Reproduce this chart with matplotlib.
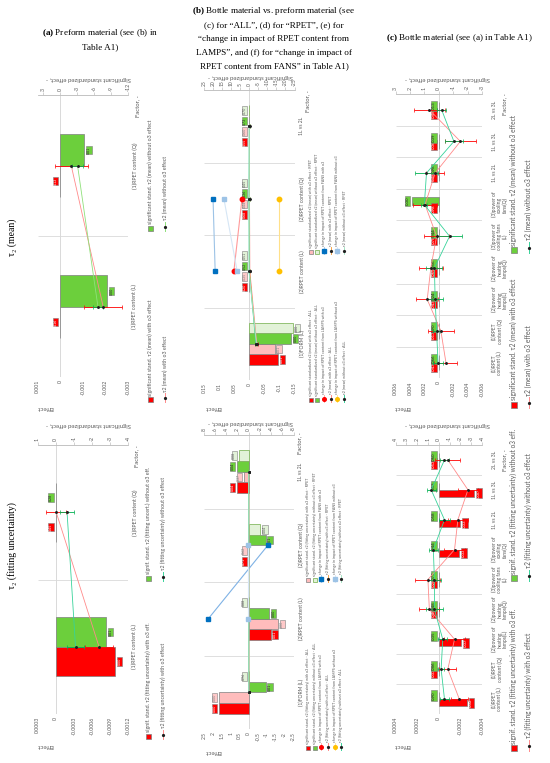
import numpy as np
import matplotlib
matplotlib.use("Agg")
import matplotlib.pyplot as plt
from matplotlib.patches import Rectangle

W, H = 550, 763
plt.rcParams["font.family"] = ["Lato", "DejaVu Sans"]
plt.rcParams["mathtext.fontset"] = "custom"
plt.rcParams["mathtext.rm"] = "Liberation Serif"
plt.rcParams["mathtext.bf"] = "Liberation Serif:bold"
nan = np.nan

# ======================= DATA =======================
# ---- (a) preform material ----
cats_a = ["(1)RPET content (L)", "(1)RPET content (Q)"]
# tau2 (mean)
a_mean_std_with = [0.0, 0.0]
a_mean_std_without = [-8.3, -4.3]
a_mean_p_with = ["0.16", "0.13"]
a_mean_p_without = ["0.00", "0.01"]
a_mean_eff_with = [-0.0019, -0.00049]
a_mean_err_with = [0.00084, 0.00072]
a_mean_eff_without = [-0.00167, -0.00077]
a_mean_err_without = [0.00022, 0.00024]
# tau2 (fitting uncertainty)
a_unc_std_with = [-3.3, 0.0]
a_unc_std_without = [-2.8, 0.0]
a_unc_p_with = ["0.00", "0.45"]
a_unc_p_without = ["0.01", "0.28"]
a_unc_eff_with = [-0.00072, -0.00001]
a_unc_err_with = [0.00023, 0.00017]
a_unc_eff_without = [-0.00033, -0.00019]
a_unc_err_without = [0.00014, 0.00011]

a_mean_eff_ticks = [0.001, 0, -0.001, -0.002, -0.003]
a_mean_eff_labels = ["0.001", "0", "-0.001", "-0.002", "-0.003"]
a_mean_std_ticks = [3, 0, -3, -6, -9, -12]
a_mean_std_labels = ["3", "0", "-3", "-6", "-9", "-12"]
a_unc_eff_ticks = [0.0003, 0, -0.0003, -0.0006, -0.0009, -0.0012]
a_unc_eff_labels = ["0.0003", "0", "-0.0003", "-0.0006", "-0.0009", "-0.0012"]
a_unc_std_ticks = [1, 0, -1, -2, -3, -4]
a_unc_std_labels = ["1", "0", "-1", "-2", "-3", "-4"]

# ---- (b) bottle vs preform ----
cats_b = ["(1)FORM (L)", "(2)RPET content (L)", "(2)RPET content (Q)", "1L vs 2L"]
# tau2 (mean)
b_mean_std_all_with = [-15.8, 0.0, 0.0, 0.0]
b_mean_std_rpet_with = [-14.0, 0.0, 0.0, 0.0]
b_mean_std_all_without = [-23.0, 0.0, 0.0, 0.0]
b_mean_std_rpet_without = [-24.0, 0.0, 0.0, 0.0]
b_mean_p_all_with = ["0.01", "0.20", "0.68", "0.55"]
b_mean_p_rpet_with = ["0.01", "0.35", "0.44", "0.60"]
b_mean_p_all_without = ["0.00", "0.52", "0.36", "0.73"]
b_mean_p_rpet_without = ["0.00", "0.51", "0.45", "0.70"]
b_mean_eff_all_with = [-0.025, -0.002, -0.001, 0.000]
b_mean_err_all_with = [0.004, 0.002, 0.002, 0.002]
b_mean_eff_all_without = [-0.022, 0.000, 0.001, 0.000]
b_mean_err_all_without = [0.003, 0.002, 0.002, 0.002]
b_mean_eff_rpet_with = [-0.023, -0.001, 0.000, -0.001]
b_mean_err_rpet_with = [0.004, 0.002, 0.002, 0.002]
b_mean_eff_rpet_without = [-0.024, 0.001, 0.000, 0.000]
b_mean_err_rpet_without = [0.003, 0.002, 0.002, 0.002]
b_mean_lamps_with = [nan, 0.051, 0.024, nan]
b_mean_lamps_without = [nan, -0.100, -0.100, nan]
b_mean_fans_with = [nan, 0.113, 0.120, nan]
b_mean_fans_without = [nan, 0.040, 0.084, nan]
# tau2 (fitting uncertainty)
b_unc_std_all_with = [5.3, -3.9, 0.0, 2.1]
b_unc_std_rpet_with = [5.3, -5.2, 0.0, 0.9]
b_unc_std_all_without = [-3.0, -3.6, -3.0, 2.1]
b_unc_std_rpet_without = [0.0, 0.0, -2.1, 1.8]
b_unc_p_all_with = ["0.00", "0.01", "0.71", "0.04"]
b_unc_p_rpet_with = ["0.00", "0.00", "0.62", "0.37"]
b_unc_p_all_without = ["0.01", "0.00", "0.01", "0.04"]
b_unc_p_rpet_without = ["0.96", "0.88", "0.04", "0.08"]
b_unc_eff_all_with = [0.0004, -0.0003, 0.0002, 0.0001]
b_unc_eff_all_without = [0.0002, -0.0001, 0.0001, 0.0000]
b_unc_eff_rpet_with = [0.0003, -0.0004, 0.0001, 0.0002]
b_unc_eff_rpet_without = [0.0001, 0.0000, -0.0001, 0.0001]
b_unc_err = [0.0002, 0.0002, 0.0002, 0.0002]
b_unc_lamps_with = [nan, nan, nan, nan]      # not visible in the reference
b_unc_lamps_without = [nan, nan, nan, nan]   # not visible in the reference
b_unc_fans_with = [nan, 2.26, -1.07, nan]
b_unc_fans_without = [nan, 0.02, 0.02, nan]

b_mean_eff_ticks = [0.15, 0.1, 0.05, 0, -0.05, -0.1, -0.15]
b_mean_eff_labels = ["0.15", "0.1", "0.05", "0", "-0.05", "-0.1", "-0.15"]
b_mean_std_ticks = [25, 20, 15, 10, 5, 0, -5, -10, -15, -20, -25]
b_mean_std_labels = ["25", "20", "15", "10", "5", "0", "-5", "-10", "-15", "-20", "-25"]
b_unc_eff_ticks = [2.5, 2, 1.5, 1, 0.5, 0, -0.5, -1, -1.5, -2, -2.5]
b_unc_eff_labels = ["2.5", "2", "1.5", "1", "0.5", "0", "-0.5", "-1", "-1.5", "-2", "-2.5"]
b_unc_std_ticks = [8, 6, 4, 2, 0, -2, -4, -6, -8]
b_unc_std_labels = ["8", "6", "4", "2", "0", "-2", "-4", "-6", "-8"]

# ---- (c) bottle material ----
cats_c = ["(1)RPET\ncontent (L)", "(1)RPET\ncontent (Q)", "(2)power of\nheating\nlamps(L)",
          "(2)power of\nheating\nlamps(Q)", "(3)power of\ncooling fans\n(L)",
          "(3)power of\ncooling\nfans(Q)", "1L vs 2L", "1L vs 3L", "2L vs 3L"]
# tau2 (mean)
c_mean_std_with = [0, 0, 0, 0, 0, 0, 0, 0, 0]
c_mean_std_without = [0, 0, 0, 0, 0, 1.86, 0, 0, 0]
c_mean_p_with = ["0.43", "0.13", "0.43", "0.65", "0.70", "0.98", "0.48", "0.06", "0.45"]
c_mean_p_without = ["0.66", "0.90", "0.24", "0.56", "0.44", "0.00", "0.98", "0.09", "0.13"]
c_mean_eff_with = [-0.0010, -0.0003, 0.0016, 0.0011, 0.0003, 0.0019, 0.0005, -0.0030, 0.0013]
c_mean_err_with = [0.0016, 0.0018, 0.0015, 0.0017, 0.0017, 0.0017, 0.0012, 0.0022, 0.0021]
c_mean_eff_without = [0.0001, 0.0003, 0.0005, 0.0006, -0.0015, 0.0020, 0.0017, -0.0021, -0.0004]
c_mean_err_without = [0.0007, 0.0005, 0.0011, 0.0011, 0.0017, 0.0004, 0.0016, 0.0013, 0.0006]
# tau2 (fitting uncertainty)
c_unc_std_with = [-2.6, 0, -2.1, 0, 0, -1.9, -2.0, -3.3, 0]
c_unc_std_without = [0, 0, 0, 0, 0, 0, 0, 0, 0]
c_unc_p_with = ["0.02", "0.33", "0.03", "0.46", "0.20", "0.03", "0.03", "0.00", "0.53"]
c_unc_p_without = ["0.90", "0.86", "0.35", "0.48", "0.77", "0.44", "0.58", "0.53", "0.60"]
c_unc_eff_with = [-0.00019, -0.000084, -0.000146, 0.000087, 0.0001, -0.000146, -0.000177, -0.00027, -0.000084]
c_unc_err_with = [0.000078, 0.000078, 0.000093, 0.000093, 0.000116, 0.000093, 0.000093, 0.000093, 0.000116]
c_unc_eff_without = [-0.000053, -0.000022, -0.000037, 0.00004, 0.00004, 0.00005, -0.000053, 0.00007, -0.000053]
c_unc_err_without = [0.00004, 0.00003, 0.00004, 0.00008, 0.00006, 0.00004, 0.00005, 0.00004, 0.00004]

c_mean_eff_ticks = [0.006, 0.004, 0.002, 0, -0.002, -0.004, -0.006]
c_mean_eff_labels = ["0.006", "0.004", "0.002", "0", "-0.002", "-0.004", "-0.006"]
c_mean_std_ticks = [3, 2, 1, 0, -1, -2, -3]
c_mean_std_labels = ["3", "2", "1", "0", "-1", "-2", "-3"]
c_unc_eff_ticks = [0.0004, 0.0002, 0, -0.0002, -0.0004]
c_unc_eff_labels = ["0.0004", "0.0002", "0", "-0.0002", "-0.0004"]
c_unc_std_ticks = [4, 3, 2, 1, 0, -1, -2, -3, -4]
c_unc_std_labels = ["4", "3", "2", "1", "0", "-1", "-2", "-3", "-4"]

# ======================= STYLE =======================
RED = "#ff0000"
GRN = "#6ccf3c"
PINK = "#ffbcbc"
LGRN = "#e2f2d8"
EDGE = "#7f7f7f"
RLINE = "#ff8a8a"
GLINE = "#37d39a"
OLINE = "#f7a64a"
LGLINE = "#a8e6c6"
RERR = "#ff0000"
GERR = "#00b050"
DARK = "#1f1f1f"
TXT = "#595959"

BAR_RED = dict(fc=RED, ec=EDGE, lfc=RED, ltc="white")
BAR_GRN = dict(fc=GRN, ec=EDGE, lfc=GRN, ltc="#262626")
BAR_PINK = dict(fc=PINK, ec=EDGE, lfc="#ffc9c9", ltc="#7f7f7f")
BAR_LGRN = dict(fc=LGRN, ec="#70ad47", lfc=LGRN, ltc="#595959")

fig = plt.figure(figsize=(W / 100, H / 100), dpi=100)


def px_box(x0, y0, x1, y1):
    return [x0 / W, 1 - y1 / H, (x1 - x0) / W, (y1 - y0) / H]


def draw_panel(sp):
    ax = fig.add_axes(px_box(*sp["box"]))
    ax2 = ax.twiny()
    ax.set_zorder(ax2.get_zorder() + 1)
    ax.patch.set_visible(False)
    cats = sp["cats"]
    n = len(cats)
    y = np.arange(n)
    ax.set_ylim(-0.5, n - 0.5)
    ax.set_xlim(*sp["eff_lim"])
    ax2.set_xlim(*sp["std_lim"])
    # category separators and zero line
    ax2.hlines(np.arange(n + 1) - 0.5, *sp["std_lim"], color="#d9d9d9", lw=0.6, zorder=0)
    ax2.axvline(0, color="#d9d9d9", lw=0.7, zorder=0)
    # bars (secondary axis: significant standardized effect)
    bars = sp["bars"]
    m = len(bars)
    w = sp["bar_w"]
    for k, (vals, pv, st) in enumerate(bars):
        off = (k - (m - 1) / 2) * w
        ax2.barh(y + off, vals, height=w, color=st["fc"], edgecolor=st["ec"], lw=0.5, zorder=2)
        for yy, v, p in zip(y + off, vals, pv):
            pos = v >= 0
            ax2.annotate(p, xy=(v, yy), xytext=(-1.8 if pos else 1.8, 0),
                         textcoords="offset points", rotation=90,
                         ha="right" if pos else "left", va="center",
                         fontsize=sp["fs_lab"], color=st["ltc"], zorder=4,
                         bbox=dict(boxstyle="square,pad=0.18", fc=st["lfc"], ec=EDGE, lw=0.4))
    # lines with error bars (primary axis: effect)
    for vals, errs, lc, ec in sp["lines"]:
        ax.errorbar(vals, y, xerr=errs, color=lc, lw=0.6, marker="o", ms=1.1,
                    mfc=DARK, mec=DARK, ecolor=ec, elinewidth=0.6, capsize=1.1,
                    capthick=0.5, zorder=3)
    for vals, mk, mc, lc, ms in sp.get("points", []):
        ax.plot(vals, y, color=lc, lw=0.8, marker=mk, ms=ms, mfc=mc, mec=mc, zorder=4)
    # axes styling
    for s in ax.spines.values():
        s.set_visible(False)
    for s in ax2.spines.values():
        s.set_visible(False)
    ax2.spines["top"].set_visible(True)
    ax2.spines["top"].set_color("#bfbfbf")
    ax2.spines["top"].set_linewidth(0.6)
    ax.set_xticks(sp["eff_ticks"])
    ax.set_xticklabels(sp["eff_labels"], rotation=90, fontsize=sp["fs_tick"], color=TXT)
    ax.tick_params(axis="x", length=0, pad=2)
    ax2.set_xticks(sp["std_ticks"])
    ax2.set_xticklabels(sp["std_labels"], rotation=90, fontsize=sp["fs_tick"], color=TXT)
    ax2.tick_params(axis="x", length=2, width=0.5, color="#bfbfbf", pad=1)
    ax.set_yticks(y)
    ax.set_yticklabels(cats, rotation=90, va="center", ha="left", multialignment="center",
                       fontsize=sp["fs_cat"], color=TXT, linespacing=1.0)
    ax.tick_params(axis="y", length=0, pad=sp["cat_pad"], labelleft=False, labelright=True)
    return ax, ax2


panels = [
    dict(box=(37.5, 95, 128, 377), cats=cats_a, eff_lim=(0.001, -0.003), std_lim=(4, -12),
         eff_ticks=a_mean_eff_ticks, eff_labels=a_mean_eff_labels,
         std_ticks=a_mean_std_ticks, std_labels=a_mean_std_labels,
         bars=[(a_mean_std_with, a_mean_p_with, BAR_RED), (a_mean_std_without, a_mean_p_without, BAR_GRN)],
         lines=[(a_mean_eff_with, a_mean_err_with, RLINE, RERR),
                (a_mean_eff_without, a_mean_err_without, "#8fe07a", GERR)],
         bar_w=0.22, fs_lab=2.6, fs_tick=3.8, fs_cat=3.8, cat_pad=3),
    dict(box=(37.5, 445, 128, 714), cats=cats_a, eff_lim=(0.0003, -0.0012), std_lim=(1, -4),
         eff_ticks=a_unc_eff_ticks, eff_labels=a_unc_eff_labels,
         std_ticks=a_unc_std_ticks, std_labels=a_unc_std_labels,
         bars=[(a_unc_std_with, a_unc_p_with, BAR_RED), (a_unc_std_without, a_unc_p_without, BAR_GRN)],
         lines=[(a_unc_eff_with, a_unc_err_with, RLINE, RERR),
                (a_unc_eff_without, a_unc_err_without, GLINE, GERR)],
         bar_w=0.22, fs_lab=2.6, fs_tick=3.8, fs_cat=3.8, cat_pad=3),
    dict(box=(204, 90, 294.5, 380), cats=cats_b, eff_lim=(0.15, -0.15), std_lim=(25, -25),
         eff_ticks=b_mean_eff_ticks, eff_labels=b_mean_eff_labels,
         std_ticks=b_mean_std_ticks, std_labels=b_mean_std_labels,
         bars=[(b_mean_std_all_with, b_mean_p_all_with, BAR_RED),
               (b_mean_std_rpet_with, b_mean_p_rpet_with, BAR_PINK),
               (b_mean_std_all_without, b_mean_p_all_without, BAR_GRN),
               (b_mean_std_rpet_without, b_mean_p_rpet_without, BAR_LGRN)],
         lines=[(b_mean_eff_all_with, b_mean_err_all_with, RLINE, RERR),
                (b_mean_eff_rpet_with, b_mean_err_rpet_with, OLINE, OLINE),
                (b_mean_eff_all_without, b_mean_err_all_without, GLINE, GERR),
                (b_mean_eff_rpet_without, b_mean_err_rpet_without, LGLINE, LGLINE)],
         points=[(b_mean_lamps_with, "o", RED, "#ff9a9a", 3.2),
                 (b_mean_lamps_without, "o", "#ffc000", "#ffe08a", 3.2),
                 (b_mean_fans_with, "s", "#0070c0", "#9dc3e6", 3.0),
                 (b_mean_fans_without, "s", "#9dc3e6", "#d6e6f5", 3.0)],
         bar_w=0.145, fs_lab=2.6, fs_tick=3.6, fs_cat=3.6, cat_pad=3.5),
    dict(box=(204, 435, 293.5, 729), cats=cats_b, eff_lim=(2.5, -2.5), std_lim=(8, -8),
         eff_ticks=b_unc_eff_ticks, eff_labels=b_unc_eff_labels,
         std_ticks=b_unc_std_ticks, std_labels=b_unc_std_labels,
         bars=[(b_unc_std_all_with, b_unc_p_all_with, BAR_RED),
               (b_unc_std_rpet_with, b_unc_p_rpet_with, BAR_PINK),
               (b_unc_std_all_without, b_unc_p_all_without, BAR_GRN),
               (b_unc_std_rpet_without, b_unc_p_rpet_without, BAR_LGRN)],
         lines=[(b_unc_eff_all_with, b_unc_err, RLINE, RERR),
                (b_unc_eff_rpet_with, b_unc_err, OLINE, OLINE),
                (b_unc_eff_all_without, b_unc_err, GLINE, GERR),
                (b_unc_eff_rpet_without, b_unc_err, LGLINE, LGLINE)],
         points=[(b_unc_lamps_with, "o", RED, "#ff9a9a", 3.2),
                 (b_unc_lamps_without, "o", "#ffc000", "#ffe08a", 3.2),
                 (b_unc_fans_with, "s", "#0070c0", "#7fb2e5", 3.0),
                 (b_unc_fans_without, "s", "#9dc3e6", "#d6e6f5", 3.0)],
         bar_w=0.145, fs_lab=2.6, fs_tick=3.6, fs_cat=3.6, cat_pad=3.5),
    dict(box=(395.5, 94, 482, 378.5), cats=cats_c, eff_lim=(0.006, -0.006), std_lim=(3, -3),
         eff_ticks=c_mean_eff_ticks, eff_labels=c_mean_eff_labels,
         std_ticks=c_mean_std_ticks, std_labels=c_mean_std_labels,
         bars=[(c_mean_std_with, c_mean_p_with, BAR_RED), (c_mean_std_without, c_mean_p_without, BAR_GRN)],
         lines=[(c_mean_eff_with, c_mean_err_with, RLINE, RERR),
                (c_mean_eff_without, c_mean_err_without, GLINE, GERR)],
         bar_w=0.24, fs_lab=3.2, fs_tick=3.8, fs_cat=3.6, cat_pad=7),
    dict(box=(395.5, 445, 482, 714), cats=cats_c, eff_lim=(0.0004, -0.0004), std_lim=(4, -4),
         eff_ticks=c_unc_eff_ticks, eff_labels=c_unc_eff_labels,
         std_ticks=c_unc_std_ticks, std_labels=c_unc_std_labels,
         bars=[(c_unc_std_with, c_unc_p_with, BAR_RED), (c_unc_std_without, c_unc_p_without, BAR_GRN)],
         lines=[(c_unc_eff_with, c_unc_err_with, RLINE, RERR),
                (c_unc_eff_without, c_unc_err_without, GLINE, GERR)],
         bar_w=0.24, fs_lab=3.2, fs_tick=3.8, fs_cat=3.6, cat_pad=7),
]
for sp in panels:
    draw_panel(sp)

# ======================= OVERLAY TEXTS & LEGENDS =======================
ov = fig.add_axes([0, 0, 1, 1], zorder=20)
ov.set_xlim(0, W)
ov.set_ylim(H, 0)
ov.axis("off")
ov.patch.set_visible(False)

SERIF = ["Liberation Serif", "DejaVu Serif"]
hdr_fs = 6.6
ov.text(100, 33, r"$\mathbf{(a)}$ Preform material (see (b) in", ha="center", va="center", fontsize=hdr_fs, family=SERIF)
ov.text(100, 47, "Table A1)", ha="center", va="center", fontsize=hdr_fs, family=SERIF)
b_lines = [r"$\mathbf{(b)}$ Bottle material vs. preform material (see",
           "(c) for “ALL”, (d) for “RPET”, (e) for",
           "“change in impact of RPET content from",
           "LAMPS”, and (f) for “change in impact of",
           "RPET content from FANS” in Table A1)"]
for i, t in enumerate(b_lines):
    ov.text(274, 11 + i * 13.9, t, ha="center", va="center", fontsize=hdr_fs, family=SERIF)
ov.text(459, 38.5, r"$\mathbf{(c)}$ Bottle material (see (a) in Table A1)", ha="center", va="center",
        fontsize=hdr_fs, family=SERIF)
ov.text(12, 237, "τ₂ (mean)", rotation=90, ha="center", va="center", fontsize=7, family=SERIF)
ov.text(12, 546, "τ₂ (fitting uncertainty)", rotation=90, ha="center", va="center", fontsize=7, family=SERIF)

# axis titles
for (cx, ty, ey, ex, fx, fy) in [(88, 78, 407, 45, 138, 95), (88, 425, 745, 45, 137, 445),
                                 (250, 76, 407, 213, 308, 90), (250, 423, 751, 213, 300, 432),
                                 (447, 78, 407, 402, 505, 93), (447, 425, 745, 402, 504.5, 449)]:
    ov.text(cx, ty, "Significant standardized effect, -", rotation=180, ha="center", va="center",
            fontsize=4.3, color=TXT)
    ov.text(ex, ey, "Effect", rotation=180, ha="center", va="center", fontsize=4.6, color=TXT)
    ov.text(fx, fy, "Factor, -", rotation=90, ha="center", va="top", fontsize=4.3, color=TXT)


def leg(x, y, kind, label, fs, s=5.0, L=9.0, **st):
    if kind == "box":
        ov.add_patch(Rectangle((x - s / 2, y - s), s, s, fc=st["fc"], ec=st["ec"], lw=0.5))
        ty = y - s - 1.5
    elif kind == "line":
        ov.plot([x, x], [y, y - L], color=st["color"], lw=0.7)
        ov.plot([x], [y - L / 2], marker="o", ms=1.3, color=DARK)
        ty = y - L - 1.5
    else:
        ov.plot([x, x], [y, y - L], color=st["lc"], lw=0.6)
        ov.plot([x], [y - L / 2], marker=st["marker"], ms=st["ms"], color=st["color"])
        ty = y - L - 1.5
    ov.text(x, ty, label, rotation=90, ha="center", va="bottom", fontsize=fs, color=TXT)


# (a) legends
leg(150, 402, "box", "significant stand. τ2 (mean) with o3 effect", 3.8, fc=RED, ec=EDGE)
leg(150, 231, "box", "significant stand. τ2 (mean) without o3 effect", 3.8, fc=GRN, ec=EDGE)
leg(165, 402, "line", "τ2 (mean) with o3 effect", 3.8, color=RLINE)
leg(165, 231, "line", "τ2 (mean) without o3 effect", 3.8, color="#8fe07a")
leg(148, 739, "box", "signif. stand. τ2 (fitting uncertainty) with o3 eff.", 3.8, fc=RED, ec=EDGE)
leg(148, 581, "box", "signif. stand. τ2 (fitting uncert.) without o3 eff.", 3.8, fc=GRN, ec=EDGE)
leg(163, 739, "line", "τ2 (fitting uncertainty) with o3 effect", 3.8, color=RLINE)
leg(163, 581, "line", "τ2 (fitting uncertainty) without o3 effect", 3.8, color=GLINE)

# (c) legends
leg(513.5, 408, "box", "significant stand. τ2 (mean) with o3 effect", 4.8, s=6, fc=RED, ec=EDGE)
leg(513.5, 253, "box", "significant stand. τ2 (mean) without o3 effect", 4.8, s=6, fc=GRN, ec=EDGE)
leg(528.5, 408, "line", "τ2 (mean) with o3 effect", 4.8, L=11, color=RLINE)
leg(528.5, 253, "line", "τ2 (mean) without o3 effect", 4.8, L=11, color=GLINE)
leg(513.5, 751, "box", "signif. stand. τ2 (fitting uncertainty) with o3 eff.", 4.7, s=6, fc=RED, ec=EDGE)
leg(513.5, 581, "box", "signif. stand. τ2 (fitting uncertainty) without o3 eff.", 4.7, s=6, fc=GRN, ec=EDGE)
leg(528.5, 751, "line", "τ2 (fitting uncertainty) with o3 effect", 4.7, L=11, color=RLINE)
leg(528.5, 581, "line", "τ2 (fitting uncertainty) without o3 effect", 4.7, L=11, color=GLINE)


# (b) legends
def b_legend(xs, y1, y2, what):
    fs = 2.6
    short = what.split(" ", 1)[1]
    col1 = [("box", f"significant {what} with o3 effect - ALL", dict(fc=RED, ec=EDGE)),
            ("box", f"significant {what} without o3 effect - ALL", dict(fc=GRN, ec=EDGE)),
            ("pt", "change in impact of RPET content from LAMPS with o3", dict(marker="o", ms=2.6, color=RED, lc="#ff9a9a")),
            ("line", f"{short} with o3 effect - ALL", dict(color=RLINE)),
            ("pt", "change in impact of RPET content from LAMPS without o3", dict(marker="o", ms=2.6, color="#ffc000", lc="#ffe08a")),
            ("line", f"{short} without o3 effect - ALL", dict(color=GLINE))]
    col2 = [("box", f"significant {what} with o3 effect - RPET", dict(fc=PINK, ec=EDGE)),
            ("box", f"significant {what} without o3 effect - RPET", dict(fc=LGRN, ec="#70ad47")),
            ("pt", "change in impact of RPET content from FANS with o3", dict(marker="s", ms=2.4, color="#0070c0", lc="#9dc3e6")),
            ("line", f"{short} with o3 effect - RPET", dict(color=OLINE)),
            ("pt", "change in impact of RPET content from FANS without o3", dict(marker="s", ms=2.4, color="#9dc3e6", lc="#d6e6f5")),
            ("line", f"{short} without o3 effect - RPET", dict(color=LGLINE))]
    for x, (k1, l1, s1), (k2, l2, s2) in zip(xs, col1, col2):
        leg(x, y1, k1, l1, fs, s=4, L=7, **s1)
        leg(x, y2, k2, l2, fs, s=4, L=7, **s2)


b_legend([310.7, 317.3, 324, 330.7, 337.3, 344], 402, 254, "standardized τ2 (mean)")
b_legend([308, 314.7, 321.4, 328, 334.7, 341.4], 750, 582, "stand. τ2 (fitting uncertainty)")

fig.savefig("out.png", dpi=100)
